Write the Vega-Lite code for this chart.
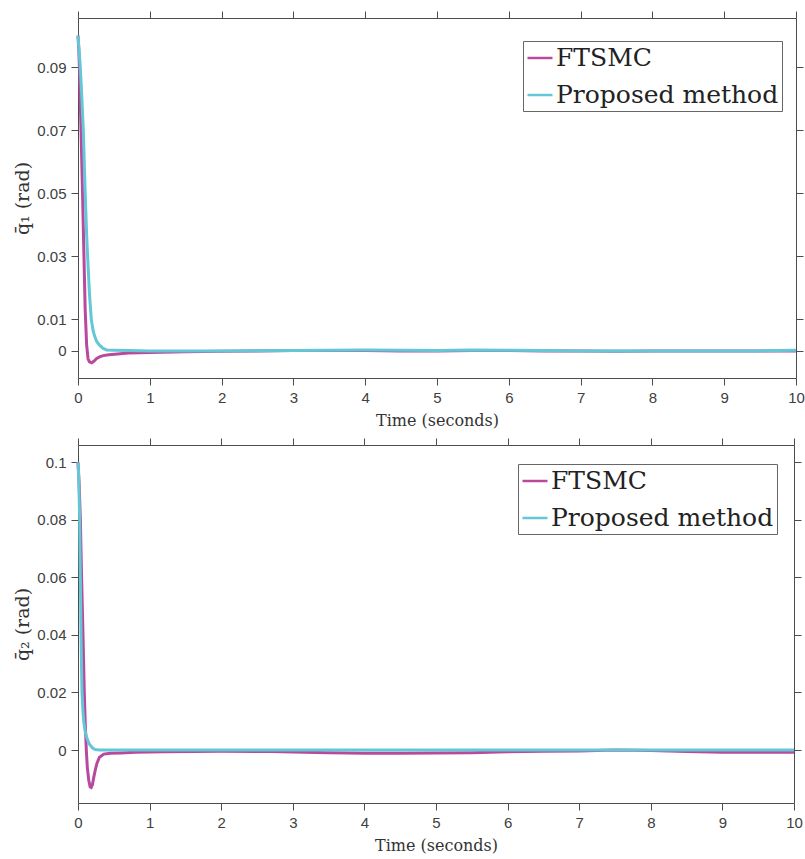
{
  "$schema": "https://vega.github.io/schema/vega-lite/v6.json",
  "padding": {"left": 13, "top": 10, "right": 5, "bottom": 5},
  "background": "white",
  "datasets": {
    "q1": [
      {"t": 0, "v": 0.1, "s": "FTSMC"},
      {"t": 0.01, "v": 0.096, "s": "FTSMC"},
      {"t": 0.02, "v": 0.09, "s": "FTSMC"},
      {"t": 0.04, "v": 0.072, "s": "FTSMC"},
      {"t": 0.06, "v": 0.053, "s": "FTSMC"},
      {"t": 0.08, "v": 0.033, "s": "FTSMC"},
      {"t": 0.1, "v": 0.013, "s": "FTSMC"},
      {"t": 0.12, "v": 0.002, "s": "FTSMC"},
      {"t": 0.14, "v": -0.0025, "s": "FTSMC"},
      {"t": 0.16, "v": -0.0035, "s": "FTSMC"},
      {"t": 0.19, "v": -0.0038, "s": "FTSMC"},
      {"t": 0.22, "v": -0.0033, "s": "FTSMC"},
      {"t": 0.26, "v": -0.0024, "s": "FTSMC"},
      {"t": 0.3, "v": -0.0019, "s": "FTSMC"},
      {"t": 0.35, "v": -0.0015, "s": "FTSMC"},
      {"t": 0.43, "v": -0.0012, "s": "FTSMC"},
      {"t": 0.55, "v": -0.001, "s": "FTSMC"},
      {"t": 0.7, "v": -0.0007, "s": "FTSMC"},
      {"t": 1.0, "v": -0.0005, "s": "FTSMC"},
      {"t": 1.5, "v": -0.0003, "s": "FTSMC"},
      {"t": 2.0, "v": -0.0001, "s": "FTSMC"},
      {"t": 2.5, "v": 0, "s": "FTSMC"},
      {"t": 3.0, "v": 0.0001, "s": "FTSMC"},
      {"t": 3.5, "v": 0.0001, "s": "FTSMC"},
      {"t": 4.0, "v": 0.0001, "s": "FTSMC"},
      {"t": 4.5, "v": 0, "s": "FTSMC"},
      {"t": 5.0, "v": 0, "s": "FTSMC"},
      {"t": 5.5, "v": 0.0001, "s": "FTSMC"},
      {"t": 6.0, "v": 0.0001, "s": "FTSMC"},
      {"t": 6.5, "v": 0, "s": "FTSMC"},
      {"t": 7.0, "v": 0, "s": "FTSMC"},
      {"t": 7.5, "v": -0.0001, "s": "FTSMC"},
      {"t": 8.0, "v": 0, "s": "FTSMC"},
      {"t": 9.0, "v": 0, "s": "FTSMC"},
      {"t": 10.0, "v": 0, "s": "FTSMC"},
      {"t": 0, "v": 0.1, "s": "Proposed method"},
      {"t": 0.02, "v": 0.094, "s": "Proposed method"},
      {"t": 0.032, "v": 0.09, "s": "Proposed method"},
      {"t": 0.05, "v": 0.082, "s": "Proposed method"},
      {"t": 0.074, "v": 0.07, "s": "Proposed method"},
      {"t": 0.1, "v": 0.05, "s": "Proposed method"},
      {"t": 0.12, "v": 0.037, "s": "Proposed method"},
      {"t": 0.134, "v": 0.03, "s": "Proposed method"},
      {"t": 0.16, "v": 0.018, "s": "Proposed method"},
      {"t": 0.185, "v": 0.01, "s": "Proposed method"},
      {"t": 0.21, "v": 0.0065, "s": "Proposed method"},
      {"t": 0.227, "v": 0.005, "s": "Proposed method"},
      {"t": 0.26, "v": 0.003, "s": "Proposed method"},
      {"t": 0.3, "v": 0.0018, "s": "Proposed method"},
      {"t": 0.35, "v": 0.0008, "s": "Proposed method"},
      {"t": 0.4, "v": 0.0003, "s": "Proposed method"},
      {"t": 0.5, "v": 0.0002, "s": "Proposed method"},
      {"t": 0.7, "v": 0.0001, "s": "Proposed method"},
      {"t": 1.0, "v": 0, "s": "Proposed method"},
      {"t": 1.5, "v": 0, "s": "Proposed method"},
      {"t": 2.0, "v": 0, "s": "Proposed method"},
      {"t": 3.0, "v": 0.0001, "s": "Proposed method"},
      {"t": 3.5, "v": 0.0002, "s": "Proposed method"},
      {"t": 4.0, "v": 0.0003, "s": "Proposed method"},
      {"t": 4.5, "v": 0.0002, "s": "Proposed method"},
      {"t": 5.0, "v": 0.0001, "s": "Proposed method"},
      {"t": 5.5, "v": 0.0003, "s": "Proposed method"},
      {"t": 6.0, "v": 0.0002, "s": "Proposed method"},
      {"t": 6.5, "v": 0.0001, "s": "Proposed method"},
      {"t": 7.0, "v": 0, "s": "Proposed method"},
      {"t": 8.0, "v": 0, "s": "Proposed method"},
      {"t": 9.0, "v": 0, "s": "Proposed method"},
      {"t": 9.5, "v": 0, "s": "Proposed method"},
      {"t": 10.0, "v": 0.0002, "s": "Proposed method"}
    ],
    "q2": [
      {"t": 0, "v": 0.1, "s": "FTSMC"},
      {"t": 0.015, "v": 0.093, "s": "FTSMC"},
      {"t": 0.033, "v": 0.08, "s": "FTSMC"},
      {"t": 0.05, "v": 0.06, "s": "FTSMC"},
      {"t": 0.07, "v": 0.04, "s": "FTSMC"},
      {"t": 0.088, "v": 0.02, "s": "FTSMC"},
      {"t": 0.1, "v": 0.01, "s": "FTSMC"},
      {"t": 0.116, "v": 0, "s": "FTSMC"},
      {"t": 0.13, "v": -0.006, "s": "FTSMC"},
      {"t": 0.15, "v": -0.0105, "s": "FTSMC"},
      {"t": 0.17, "v": -0.0128, "s": "FTSMC"},
      {"t": 0.185, "v": -0.013, "s": "FTSMC"},
      {"t": 0.2, "v": -0.0122, "s": "FTSMC"},
      {"t": 0.22, "v": -0.0095, "s": "FTSMC"},
      {"t": 0.245, "v": -0.0065, "s": "FTSMC"},
      {"t": 0.265, "v": -0.0046, "s": "FTSMC"},
      {"t": 0.3, "v": -0.0025, "s": "FTSMC"},
      {"t": 0.36, "v": -0.0014, "s": "FTSMC"},
      {"t": 0.45, "v": -0.0011, "s": "FTSMC"},
      {"t": 0.6, "v": -0.001, "s": "FTSMC"},
      {"t": 0.8, "v": -0.0008, "s": "FTSMC"},
      {"t": 1.2, "v": -0.0006, "s": "FTSMC"},
      {"t": 2.0, "v": -0.0004, "s": "FTSMC"},
      {"t": 2.7, "v": -0.0005, "s": "FTSMC"},
      {"t": 3.0, "v": -0.0007, "s": "FTSMC"},
      {"t": 3.5, "v": -0.0009, "s": "FTSMC"},
      {"t": 4.0, "v": -0.0011, "s": "FTSMC"},
      {"t": 4.5, "v": -0.0011, "s": "FTSMC"},
      {"t": 5.0, "v": -0.001, "s": "FTSMC"},
      {"t": 5.5, "v": -0.0009, "s": "FTSMC"},
      {"t": 6.0, "v": -0.0006, "s": "FTSMC"},
      {"t": 6.5, "v": -0.0004, "s": "FTSMC"},
      {"t": 7.0, "v": -0.0003, "s": "FTSMC"},
      {"t": 7.5, "v": 0, "s": "FTSMC"},
      {"t": 8.0, "v": -0.0002, "s": "FTSMC"},
      {"t": 8.5, "v": -0.0005, "s": "FTSMC"},
      {"t": 9.0, "v": -0.0008, "s": "FTSMC"},
      {"t": 9.5, "v": -0.0008, "s": "FTSMC"},
      {"t": 10.0, "v": -0.0008, "s": "FTSMC"},
      {"t": 0, "v": 0.1, "s": "Proposed method"},
      {"t": 0.01, "v": 0.095, "s": "Proposed method"},
      {"t": 0.023, "v": 0.08, "s": "Proposed method"},
      {"t": 0.033, "v": 0.06, "s": "Proposed method"},
      {"t": 0.042, "v": 0.04, "s": "Proposed method"},
      {"t": 0.05, "v": 0.028, "s": "Proposed method"},
      {"t": 0.056, "v": 0.02, "s": "Proposed method"},
      {"t": 0.068, "v": 0.014, "s": "Proposed method"},
      {"t": 0.08, "v": 0.01, "s": "Proposed method"},
      {"t": 0.1, "v": 0.0065, "s": "Proposed method"},
      {"t": 0.12, "v": 0.0045, "s": "Proposed method"},
      {"t": 0.135, "v": 0.0035, "s": "Proposed method"},
      {"t": 0.16, "v": 0.002, "s": "Proposed method"},
      {"t": 0.2, "v": 0.0008, "s": "Proposed method"},
      {"t": 0.24, "v": 0.0002, "s": "Proposed method"},
      {"t": 0.3, "v": 0, "s": "Proposed method"},
      {"t": 0.5, "v": 0, "s": "Proposed method"},
      {"t": 1.0, "v": 0, "s": "Proposed method"},
      {"t": 2.0, "v": 0, "s": "Proposed method"},
      {"t": 4.0, "v": 0, "s": "Proposed method"},
      {"t": 6.0, "v": 0, "s": "Proposed method"},
      {"t": 8.0, "v": 0, "s": "Proposed method"},
      {"t": 10.0, "v": 0, "s": "Proposed method"}
    ]
  },
  "spacing": 9,
  "vconcat": [
    {
      "width": 718,
      "height": 360,
      "data": {"name": "q1"},
      "layer": [
        {
          "mark": {"type": "line", "strokeWidth": 3},
          "encoding": {
            "x": {"field": "t", "type": "quantitative", "scale": {"domain": [0, 10], "nice": false, "zero": false},
                  "axis": {"orient": "bottom", "title": "Time (seconds)", "values": [0,1,2,3,4,5,6,7,8,9,10], "format": "d"}},
            "y": {"field": "v", "type": "quantitative", "scale": {"domain": [-0.0086, 0.1056], "nice": false, "zero": false},
                  "axis": {"orient": "left", "title": "q̄₁ (rad)", "values": [0, 0.01, 0.03, 0.05, 0.07, 0.09], "format": ".2~f"}},
            "color": {"field": "s", "type": "nominal",
                      "scale": {"domain": ["FTSMC", "Proposed method"], "range": ["#B84A9E", "#63C7D7"]},
                      "legend": {"orient": "none", "legendX": 445, "legendY": 23}}
          }
        },
        {
          "mark": {"type": "line", "opacity": 0},
          "encoding": {
            "x": {"field": "t", "type": "quantitative", "scale": {"domain": [0, 10], "nice": false, "zero": false},
                  "axis": {"orient": "top", "title": null, "labels": false, "values": [0,1,2,3,4,5,6,7,8,9,10]}},
            "y": {"field": "v", "type": "quantitative", "scale": {"domain": [-0.0086, 0.1056], "nice": false, "zero": false},
                  "axis": {"orient": "right", "title": null, "labels": false, "values": [0, 0.01, 0.03, 0.05, 0.07, 0.09]}},
            "detail": {"field": "s"}
          }
        }
      ],
      "resolve": {"axis": {"x": "independent", "y": "independent"}}
    },
    {
      "width": 716,
      "height": 358,
      "data": {"name": "q2"},
      "layer": [
        {
          "mark": {"type": "line", "strokeWidth": 3},
          "encoding": {
            "x": {"field": "t", "type": "quantitative", "scale": {"domain": [0, 10], "nice": false, "zero": false},
                  "axis": {"orient": "bottom", "title": "Time (seconds)", "values": [0,1,2,3,4,5,6,7,8,9,10], "format": "d"}},
            "y": {"field": "v", "type": "quantitative", "scale": {"domain": [-0.0184, 0.106], "nice": false, "zero": false},
                  "axis": {"orient": "left", "title": "q̄₂ (rad)", "values": [0, 0.02, 0.04, 0.06, 0.08, 0.1], "format": ".2~f"}},
            "color": {"field": "s", "type": "nominal",
                      "scale": {"domain": ["FTSMC", "Proposed method"], "range": ["#B84A9E", "#63C7D7"]},
                      "legend": {"orient": "none", "legendX": 440, "legendY": 19}}
          }
        },
        {
          "mark": {"type": "line", "opacity": 0},
          "encoding": {
            "x": {"field": "t", "type": "quantitative", "scale": {"domain": [0, 10], "nice": false, "zero": false},
                  "axis": {"orient": "top", "title": null, "labels": false, "values": [0,1,2,3,4,5,6,7,8,9,10]}},
            "y": {"field": "v", "type": "quantitative", "scale": {"domain": [-0.0184, 0.106], "nice": false, "zero": false},
                  "axis": {"orient": "right", "title": null, "labels": false, "values": [0, 0.02, 0.04, 0.06, 0.08, 0.1]}},
            "detail": {"field": "s"}
          }
        }
      ],
      "resolve": {"axis": {"x": "independent", "y": "independent"}}
    }
  ],
  "resolve": {"scale": {"color": "independent"}, "legend": {"color": "independent"}},
  "config": {
    "view": {"stroke": null},
    "axis": {
      "grid": false,
      "domainColor": "#4d4d4d",
      "tickColor": "#4d4d4d",
      "domainWidth": 1,
      "tickWidth": 1,
      "tickSize": 7,
      "labelFont": "Liberation Sans",
      "labelFontSize": 15,
      "labelColor": "#404040",
      "labelPadding": 5,
      "labelFlush": false,
      "titleFont": "DejaVu Serif",
      "titleFontSize": 16,
      "titleFontWeight": "normal",
      "titleColor": "#333333",
      "titlePadding": 7
    },
    "axisLeft": {"titleFontSize": 19, "titlePadding": 4},
    "legend": {
      "title": null,
      "strokeColor": "#666666",
      "fillColor": "white",
      "padding": 3,
      "labelFont": "DejaVu Serif",
      "labelFontSize": 25,
      "labelColor": "#222222",
      "labelLimit": 400,
      "symbolType": "stroke",
      "symbolSize": 625,
      "symbolStrokeWidth": 2.5,
      "rowPadding": 10,
      "labelOffset": 2
    }
  }
}
